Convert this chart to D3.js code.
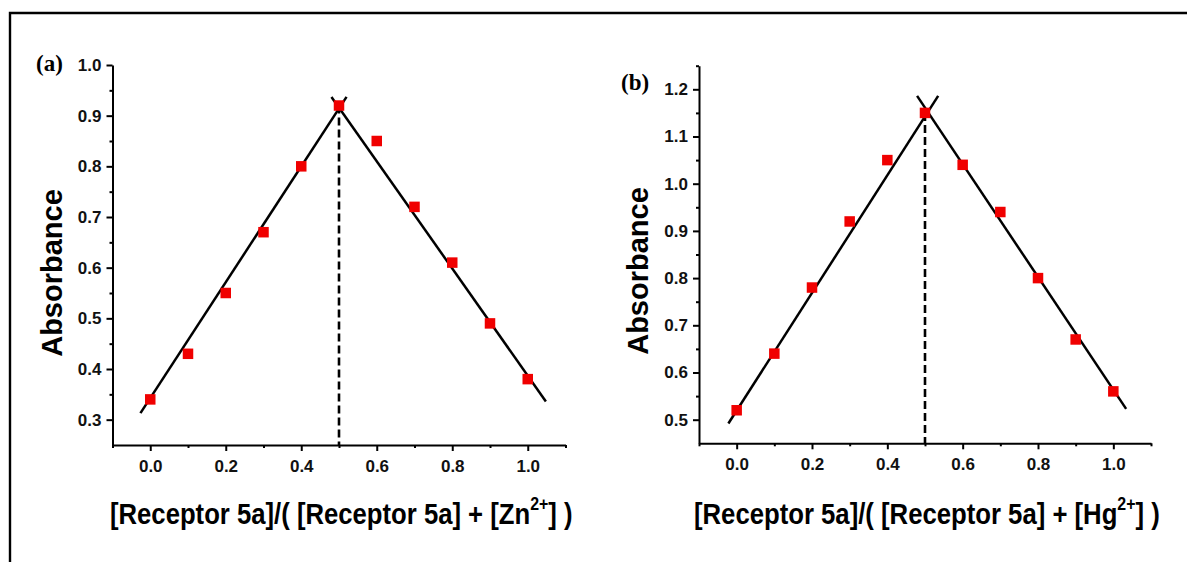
<!DOCTYPE html>
<html>
<head>
<meta charset="utf-8">
<script src="https://cdn.jsdelivr.net/npm/d3@7"></script>
<style>
  html, body { margin: 0; padding: 0; background: #fff; }
  svg { display: block; }
</style>
</head>
<body>
<svg id="chart" width="1187" height="562"></svg>
<script>
// ---------- data ----------
const molFraction = [0.0, 0.1, 0.2, 0.3, 0.4, 0.5, 0.6, 0.7, 0.8, 0.9, 1.0];
const absorbanceZn = [0.34, 0.43, 0.55, 0.67, 0.80, 0.92, 0.85, 0.72, 0.61, 0.49, 0.38];
const absorbanceHg = [0.52, 0.64, 0.78, 0.92, 1.05, 1.15, 1.04, 0.94, 0.80, 0.67, 0.56];

// linear fit segments (end points)
const fitZnRise = [[-0.026, 0.313], [0.52, 0.937]];
const fitZnFall = [[0.48, 0.937], [1.048, 0.336]];
const fitHgRise = [[-0.022, 0.492], [0.535, 1.186]];
const fitHgFall = [[0.479, 1.186], [1.034, 0.523]];

// stoichiometry marker (dashed vertical line)
const jobZn = [0.5, 0.92];
const jobHg = [0.5, 1.15];

// axes
const xDomain = [-0.1, 1.1];
const xTicksMajor = [0.0, 0.2, 0.4, 0.6, 0.8, 1.0];
const xTicksMinor = [-0.1, 0.1, 0.3, 0.5, 0.7, 0.9, 1.1];
const yDomainZn = [0.25, 1.0];
const yTicksZn = [0.3, 0.4, 0.5, 0.6, 0.7, 0.8, 0.9, 1.0];
const yMinorZn = [0.35, 0.45, 0.55, 0.65, 0.75, 0.85, 0.95];
const yDomainHg = [0.45, 1.25];
const yTicksHg = [0.5, 0.6, 0.7, 0.8, 0.9, 1.0, 1.1, 1.2];
const yMinorHg = [0.55, 0.65, 0.75, 0.85, 0.95, 1.05, 1.15, 1.25];

const yTitle = "Absorbance";
const xTitleStart = "[Receptor 5a]/( [Receptor 5a] + [";
const ionZn = "Zn", ionHg = "Hg";
const ionCharge = "2+";
const xTitleEnd = "] )";
const panelLabels = ["(a)", "(b)"];

// ---------- drawing ----------
const svg = d3.select("#chart");
const sans = '"Liberation Sans", Arial, sans-serif';

// outer frame (top and left)
svg.append("path")
  .attr("d", "M10,562 L10,13 L1187,13")
  .attr("fill", "none").attr("stroke", "#000").attr("stroke-width", 2.4);

function panel(cfg) {
  const x = d3.scaleLinear().domain(xDomain).range([cfg.left, cfg.right]);
  const y = d3.scaleLinear().domain(cfg.yDomain).range([cfg.bottom, cfg.top]);
  const g = svg.append("g");

  // x axis
  g.append("g").attr("transform", `translate(0,${cfg.bottom})`)
    .call(d3.axisBottom(x).tickValues(xTicksMajor).tickFormat(d3.format(".1f"))
      .tickSizeInner(6).tickSizeOuter(0).tickPadding(9));
  g.append("g").attr("transform", `translate(0,${cfg.bottom})`)
    .call(d3.axisBottom(x).tickValues(xTicksMinor).tickFormat("").tickSizeInner(3).tickSizeOuter(0))
    .call(s => s.select(".domain").remove());

  // y axis
  g.append("g").attr("transform", `translate(${cfg.left},0)`)
    .call(d3.axisLeft(y).tickValues(cfg.yTicks).tickFormat(d3.format(".1f"))
      .tickSizeInner(6).tickSizeOuter(0).tickPadding(5));
  g.append("g").attr("transform", `translate(${cfg.left},0)`)
    .call(d3.axisLeft(y).tickValues(cfg.yMinor).tickFormat("").tickSizeInner(3).tickSizeOuter(0))
    .call(s => s.select(".domain").remove());

  g.selectAll(".domain").attr("stroke", "#000").attr("stroke-width", 2);
  g.selectAll(".tick line").attr("stroke", "#000").attr("stroke-width", 2);
  g.selectAll(".tick text")
    .style("font-family", sans).style("font-weight", "bold")
    .style("font-size", "17px").attr("fill", "#111");

  // fitted lines
  const line = d3.line().x(d => x(d[0])).y(d => y(d[1]));
  [cfg.rise, cfg.fall].forEach(seg => {
    g.append("path").attr("d", line(seg))
      .attr("fill", "none").attr("stroke", "#000").attr("stroke-width", 2.5);
  });

  // dashed vertical line
  g.append("path").attr("d", line([[cfg.job[0], cfg.job[1]], [cfg.job[0], cfg.yDomain[0]]]))
    .attr("fill", "none").attr("stroke", "#000").attr("stroke-width", 2.6)
    .attr("stroke-dasharray", "8,4");

  // points
  const s = 10.5;
  g.selectAll("rect.pt").data(molFraction.map((v, i) => [v, cfg.values[i]]))
    .join("rect").attr("class", "pt")
    .attr("x", d => x(d[0]) - s / 2).attr("y", d => y(d[1]) - s / 2)
    .attr("width", s).attr("height", s).attr("fill", "#f00000");

  // y title
  g.append("text")
    .attr("transform", `translate(${cfg.yTitleX},${cfg.yTitleY}) rotate(-90)`)
    .attr("text-anchor", "middle")
    .style("font-family", sans)
    .style("font-weight", "bold").style("font-size", "29px")
    .text(yTitle);

  // x title
  const xt = g.append("text")
    .style("font-family", sans)
    .style("font-weight", "bold").style("font-size", "29px");
  xt.append("tspan").text(xTitleStart + cfg.ion);
  xt.append("tspan").attr("dy", -14).style("font-size", "18px").text(ionCharge);
  xt.append("tspan").attr("dy", 14).text(xTitleEnd);
  const w = xt.node().getBBox().width;
  const sx = cfg.xTitleWidth / w;
  xt.attr("transform", `translate(${cfg.xTitleCx - cfg.xTitleWidth / 2},524) scale(${sx},1)`);

  // panel label
  g.append("text").attr("x", cfg.labelX).attr("y", cfg.labelY)
    .style("font-family", '"Liberation Serif", "Times New Roman", serif')
    .style("font-weight", "bold").style("font-size", "23px")
    .text(cfg.label);
}

panel({
  left: 112.5, right: 565.5, top: 65, bottom: 445,
  yDomain: yDomainZn, yTicks: yTicksZn, yMinor: yMinorZn,
  values: absorbanceZn, rise: fitZnRise, fall: fitZnFall, job: jobZn,
  ion: ionZn, xTitleCx: 341.5, xTitleWidth: 463,
  yTitleX: 62, yTitleY: 273, label: panelLabels[0], labelX: 36, labelY: 71
});

panel({
  left: 699, right: 1151, top: 65.7, bottom: 443.3,
  yDomain: yDomainHg, yTicks: yTicksHg, yMinor: yMinorHg,
  values: absorbanceHg, rise: fitHgRise, fall: fitHgFall, job: jobHg,
  ion: ionHg, xTitleCx: 927, xTitleWidth: 466,
  yTitleX: 648, yTitleY: 271, label: panelLabels[1], labelX: 621, labelY: 90
});
</script>
</body>
</html>
